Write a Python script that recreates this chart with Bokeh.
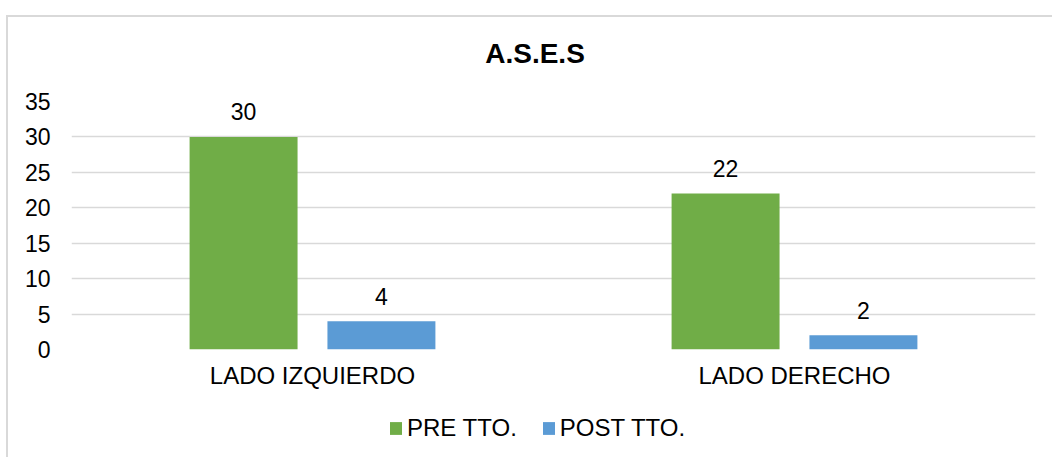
from bokeh.plotting import figure
from bokeh.layouts import column
from bokeh.models import ColumnDataSource, FactorRange, Range1d, FixedTicker, LabelSet, Label, Legend, LegendItem
from bokeh.transform import dodge
from bokeh.core.properties import value
from bokeh.embed import file_html
from bokeh.resources import INLINE

# ---- data ----
categories = ["LADO IZQUIERDO", "LADO DERECHO"]
series_names = ["PRE TTO.", "POST TTO."]
pre_tto = [30, 22]
post_tto = [4, 2]
y_ticks = [0, 5, 10, 15, 20, 25, 30, 35]
title_text = "A.S.E.S"

FONT = "Liberation Sans"
FS_NUM = "23px"
FS_TXT = "24px"
GREEN = "#70AD47"
BLUE = "#5B9BD5"
GRID = "#D9D9D9"

src = ColumnDataSource(dict(
    cat=categories,
    pre=pre_tto,
    post=post_tto,
    pre_lbl=[str(v) for v in pre_tto],
    post_lbl=[str(v) for v in post_tto],
))

W = 1044
H_TITLE = 60

# title strip
p0 = figure(
    x_range=Range1d(0, W), y_range=Range1d(0, H_TITLE),
    width=W, height=H_TITLE,
    output_backend="svg", toolbar_location=None,
    x_axis_location=None, y_axis_location=None,
    min_border=0,
    background_fill_color="white", border_fill_color="white",
)
p0.outline_line_color = None
p0.grid.grid_line_color = None
p0.add_layout(Label(x=502, y=24, text=title_text, text_align="center",
                    text_baseline="alphabetic", text_font=FONT, text_font_size="28px",
                    text_font_style="bold", text_color="#000000"))

# main chart
p = figure(
    x_range=FactorRange(factors=categories, range_padding=0),
    y_range=Range1d(0, 35),
    width=W, height=320,
    output_backend="svg", toolbar_location=None,
    min_border_left=63, min_border_right=17,
    min_border_top=24, min_border_bottom=48,
    background_fill_color="white", border_fill_color="white",
)
p.outline_line_color = None

BW = 0.224
OFF = 0.143
r1 = p.vbar(x=dodge("cat", -OFF, range=p.x_range), top="pre", width=BW,
            source=src, fill_color=GREEN, line_color=None)
r2 = p.vbar(x=dodge("cat", OFF, range=p.x_range), top="post", width=BW,
            source=src, fill_color=BLUE, line_color=None)

for col, ycol, off in (("pre_lbl", "pre", -OFF), ("post_lbl", "post", OFF)):
    p.add_layout(LabelSet(x=dodge("cat", off, range=p.x_range), y=ycol, text=col,
                          source=src, text_align="center", text_baseline="alphabetic",
                          y_offset=16.5, text_font=value(FONT), text_font_size=value(FS_NUM),
                          text_color="#000000"))

# axes
p.yaxis.ticker = FixedTicker(ticks=y_ticks)
for ax in (p.xaxis, p.yaxis):
    ax.axis_line_color = None
    ax.major_tick_line_color = None
    ax.minor_tick_line_color = None
    ax.major_tick_out = 0
    ax.major_tick_in = 0
    ax.major_label_text_font = FONT
    ax.major_label_text_color = "#000000"
p.yaxis.major_label_text_font_size = FS_NUM
p.xaxis.major_label_text_font_size = FS_TXT
p.yaxis.major_label_standoff = 21
p.xaxis.major_label_standoff = 12

p.xgrid.grid_line_color = None
p.ygrid.grid_line_color = GRID
p.ygrid.grid_line_width = 1.5

# legend strip (same series, bars hidden; legend only)
p2 = figure(
    x_range=p.x_range, y_range=Range1d(0, 1),
    width=W, height=60,
    output_backend="svg", toolbar_location=None,
    x_axis_location=None, y_axis_location=None,
    min_border=0,
    background_fill_color="white", border_fill_color="white",
)
p2.outline_line_color = None
p2.grid.grid_line_color = None
l1 = p2.vbar(x=dodge("cat", -OFF, range=p.x_range), top="pre", width=BW,
             source=src, fill_color=GREEN, line_color=None, visible=False)
l2 = p2.vbar(x=dodge("cat", OFF, range=p.x_range), top="post", width=BW,
             source=src, fill_color=BLUE, line_color=None, visible=False)

legend = Legend(items=[LegendItem(label=series_names[0], renderers=[l1]),
                       LegendItem(label=series_names[1], renderers=[l2])],
                orientation="horizontal", location=(317, 15))
legend.border_line_color = None
legend.background_fill_alpha = 0
legend.padding = 0
legend.margin = 0
legend.spacing = 24
legend.label_standoff = 4
legend.glyph_width = 15
legend.glyph_height = 16
legend.label_text_font = FONT
legend.label_text_font_size = FS_TXT
legend.label_text_color = "#000000"
p2.add_layout(legend)

lay = column(p0, p, p2, spacing=0)
lay.styles = {
    "position": "relative", "left": "6px", "top": "15px",
    "border-left": "2px solid #D9D9D9", "border-top": "2px solid #D9D9D9",
}

open("out.html", "w").write(file_html(lay, INLINE))
